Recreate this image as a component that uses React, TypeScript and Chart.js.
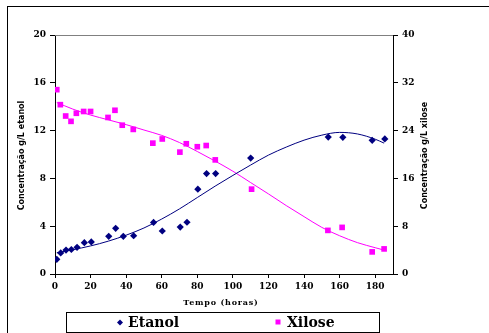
import React, { useEffect, useRef } from "react";
import { Chart, registerables } from "chart.js";

Chart.register(...registerables);

// ---- data ----
const seriesNames = ["Etanol", "Xilose"];
const xTitle = "Tempo (horas)";
const yLeftTitle = "Concentração g/L etanol";
const yRightTitle = "Concentração g/L xilose";

const xTickValues = [0, 20, 40, 60, 80, 100, 120, 140, 160, 180];

const etanolT = [1, 3.2, 6.2, 9.2, 12.4, 16.5, 20.4, 30.2, 34.1, 38.4, 44.2, 55.4, 60.3, 70.4, 74.2, 80.3, 85.2, 90.3, 110, 153.6, 161.8, 178.3, 185.4];
const etanolV = [1.23, 1.76, 2.0, 2.05, 2.23, 2.62, 2.68, 3.15, 3.82, 3.15, 3.2, 4.32, 3.6, 3.93, 4.33, 7.1, 8.4, 8.4, 9.7, 11.46, 11.44, 11.19, 11.3];

const xiloseT = [1, 3, 6, 9, 12, 16.1, 20, 29.8, 33.7, 37.8, 44, 55, 60.3, 70.2, 73.8, 80, 85, 90.1, 110.5, 153.4, 161.4, 178.3, 185];
const xiloseV = [30.85, 28.34, 26.44, 25.55, 26.9, 27.2, 27.2, 26.2, 27.4, 24.9, 24.2, 21.9, 22.6, 20.4, 21.8, 21.3, 21.5, 19.1, 14.2, 7.3, 7.8, 3.7, 4.2];

const trendT = [1, 10, 20, 30, 40, 50, 60, 70, 80, 90, 100, 110, 120, 130, 140, 150, 160, 170, 180, 185];
const etanolTrend = [1.78, 2.03, 2.35, 2.75, 3.25, 3.85, 4.6, 5.45, 6.4, 7.35, 8.25, 9.12, 9.95, 10.62, 11.2, 11.62, 11.85, 11.72, 11.28, 10.95];
const xiloseTrend = [28.7, 27.6, 26.6, 25.8, 25.0, 24.1, 23.2, 22.0, 20.5, 18.9, 17.2, 15.3, 13.4, 11.45, 9.6, 7.8, 6.4, 5.25, 4.4, 4.0];

const NAVY = "#000080";
const MAGENTA = "#FF00FF";
const TICK_FONT = { family: "'DejaVu Serif', serif", size: 9, weight: "bold" as const };

const pts = (xs: number[], ys: number[]) => xs.map((x, i) => ({ x, y: ys[i] }));

const decor = {
  id: "decor",
  beforeDraw(chart: any) {
    const { ctx, width, height } = chart;
    ctx.save();
    ctx.fillStyle = "#fff";
    ctx.fillRect(0, 0, width, height);
    ctx.restore();
  },
  afterDraw(chart: any) {
    const { ctx, chartArea: a, width, height } = chart;
    ctx.save();
    // outer frame
    ctx.strokeStyle = "#000";
    ctx.lineWidth = 1;
    ctx.strokeRect(7.5, 6.5, width + 20, height + 20);
    // plot top border
    ctx.strokeStyle = "#808080";
    ctx.beginPath();
    ctx.moveTo(a.left, a.top + 0.5);
    ctx.lineTo(a.right, a.top + 0.5);
    ctx.stroke();

    // axis titles
    ctx.fillStyle = "#000";
    ctx.textAlign = "center";
    ctx.textBaseline = "middle";
    ctx.font = "bold 8px 'DejaVu Sans', sans-serif";
    const cy = (a.top + a.bottom) / 2 + 1;
    ctx.save();
    ctx.translate(22, cy);
    ctx.rotate(-Math.PI / 2);
    ctx.fillText(yLeftTitle, 0, 0);
    ctx.restore();
    ctx.save();
    ctx.translate(425, cy);
    ctx.rotate(-Math.PI / 2);
    ctx.fillText(yRightTitle, 0, 0);
    ctx.restore();

    ctx.font = "bold 8px 'DejaVu Serif', serif";
    (ctx as any).letterSpacing = "0.8px";
    ctx.fillText(xTitle, 221, 303);
    (ctx as any).letterSpacing = "0px";

    // legend box
    ctx.strokeStyle = "#000";
    ctx.lineWidth = 1;
    ctx.strokeRect(66.5, 312.5, 313, 20);
    // etanol marker (diamond)
    ctx.fillStyle = NAVY;
    ctx.beginPath();
    const dx = 120, dy = 322.5, r = 3;
    ctx.moveTo(dx, dy - r);
    ctx.lineTo(dx + r, dy);
    ctx.lineTo(dx, dy + r);
    ctx.lineTo(dx - r, dy);
    ctx.closePath();
    ctx.fill();
    // xilose marker (square)
    ctx.fillStyle = MAGENTA;
    ctx.fillRect(275.5, 319.5, 5, 5);
    ctx.fillStyle = "#000";
    ctx.textAlign = "left";
    ctx.font = "bold 14px 'DejaVu Serif', serif";
    ctx.fillText(seriesNames[0], 128, 323);
    ctx.fillText(seriesNames[1], 287, 323);
    ctx.restore();
  },
};

export default function App() {
  const ref = useRef<HTMLCanvasElement | null>(null);
  useEffect(() => {
    if (!ref.current) return;
    const chart = new Chart(ref.current, {
      type: "scatter",
      data: {
        datasets: [
          {
            label: seriesNames[0],
            data: pts(etanolT, etanolV),
            yAxisID: "y",
            pointStyle: "rectRot",
            pointRadius: 3.6,
            backgroundColor: NAVY,
            borderColor: NAVY,
            borderWidth: 0,
            showLine: false,
            order: 1,
          },
          {
            label: seriesNames[1],
            data: pts(xiloseT, xiloseV),
            yAxisID: "y2",
            pointStyle: "rect",
            pointRadius: 4,
            backgroundColor: MAGENTA,
            borderColor: MAGENTA,
            borderWidth: 0,
            showLine: false,
            order: 2,
          },
          {
            label: seriesNames[0] + " trend",
            data: pts(trendT, etanolTrend),
            yAxisID: "y",
            showLine: true,
            borderColor: NAVY,
            borderWidth: 1,
            pointRadius: 0,
            cubicInterpolationMode: "monotone",
            order: 3,
          } as any,
          {
            label: seriesNames[1] + " trend",
            data: pts(trendT, xiloseTrend),
            yAxisID: "y2",
            showLine: true,
            borderColor: MAGENTA,
            borderWidth: 1,
            pointRadius: 0,
            cubicInterpolationMode: "monotone",
            order: 4,
          } as any,
        ],
      },
      options: {
        animation: false,
        responsive: false,
        devicePixelRatio: 1,
        layout: { padding: { top: 35, left: 0, right: 0, bottom: 0 } },
        plugins: { legend: { display: false }, tooltip: { enabled: false } },
        scales: {
          x: {
            type: "linear",
            position: "bottom",
            min: 0,
            max: 190,
            ticks: { font: TICK_FONT, color: "#000", padding: 3, maxRotation: 0, autoSkip: false },
            grid: { drawOnChartArea: false, drawTicks: true, tickLength: 4, color: "#000" },
            border: { color: "#000", width: 1 },
            afterBuildTicks: (s: any) => {
              s.ticks = xTickValues.map((value) => ({ value }));
            },
            afterFit: (s: any) => {
              s.height = 59;
            },
          },
          y: {
            type: "linear",
            position: "left",
            min: 0,
            max: 20,
            ticks: { stepSize: 4, font: TICK_FONT, color: "#000", padding: 4 },
            grid: { drawOnChartArea: false, drawTicks: true, tickLength: 5, color: "#000" },
            border: { color: "#000", width: 1 },
            afterFit: (s: any) => {
              s.width = 55;
            },
          },
          y2: {
            type: "linear",
            position: "right",
            min: 0,
            max: 40,
            ticks: { stepSize: 8, font: TICK_FONT, color: "#000", padding: 4 },
            grid: { drawOnChartArea: false, drawTicks: true, tickLength: 5, color: "#000" },
            border: { color: "#000", width: 1 },
            afterFit: (s: any) => {
              s.width = 96;
            },
          },
        },
      },
      plugins: [decor],
    });
    return () => chart.destroy();
  }, []);
  return (
    <div style={{ position: "fixed", left: 0, top: 0, width: 489, height: 333 }}>
      <canvas ref={ref} width={489} height={333} style={{ display: "block" }} />
    </div>
  );
}
